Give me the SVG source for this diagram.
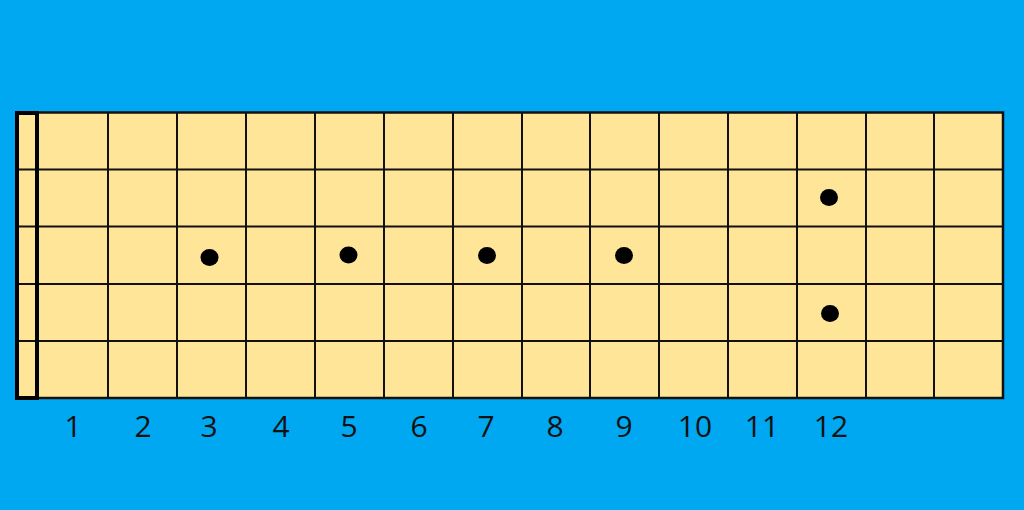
<svg xmlns="http://www.w3.org/2000/svg" width="1024" height="510" viewBox="0 0 1024 510">
<style>
.bg{fill:#00A7F1}
.board{fill:#FFE598;stroke:#111;stroke-width:2.5}
.line{stroke:#111;stroke-width:2}
.nut{fill:none;stroke:#000;stroke-width:4}
.dot{fill:#000}
.num{font-family:"Open Sans","Noto Sans",sans-serif;font-size:30px;fill:#111;text-anchor:middle}
</style>
<rect class="bg" x="0" y="0" width="1024" height="510"/>
<g id="fretboard">
<rect class="board" x="17" y="112.5" width="986" height="285.5"/>
<g id="frets">
<line class="line" x1="108" y1="112" x2="108" y2="398"/>
<line class="line" x1="177" y1="112" x2="177" y2="398"/>
<line class="line" x1="246" y1="112" x2="246" y2="398"/>
<line class="line" x1="315" y1="112" x2="315" y2="398"/>
<line class="line" x1="384" y1="112" x2="384" y2="398"/>
<line class="line" x1="453" y1="112" x2="453" y2="398"/>
<line class="line" x1="522" y1="112" x2="522" y2="398"/>
<line class="line" x1="590" y1="112" x2="590" y2="398"/>
<line class="line" x1="659" y1="112" x2="659" y2="398"/>
<line class="line" x1="728" y1="112" x2="728" y2="398"/>
<line class="line" x1="797" y1="112" x2="797" y2="398"/>
<line class="line" x1="866" y1="112" x2="866" y2="398"/>
<line class="line" x1="934" y1="112" x2="934" y2="398"/>
</g>
<g id="strings">
<line class="line" x1="17" y1="169.5" x2="1003" y2="169.5"/>
<line class="line" x1="17" y1="226.5" x2="1003" y2="226.5"/>
<line class="line" x1="17" y1="284" x2="1003" y2="284"/>
<line class="line" x1="17" y1="341" x2="1003" y2="341"/>
</g>
</g>
<g id="nut">
<rect class="nut" x="17" y="113" width="20" height="285"/>
</g>
<g id="markers">
<ellipse class="dot" cx="209.5" cy="257.5" rx="9" ry="8.5"/>
<ellipse class="dot" cx="348.5" cy="255" rx="9" ry="8.5"/>
<ellipse class="dot" cx="487" cy="255.5" rx="9" ry="8.5"/>
<ellipse class="dot" cx="624" cy="255.5" rx="9" ry="8.5"/>
<ellipse class="dot" cx="829" cy="197.5" rx="9" ry="8.5"/>
<ellipse class="dot" cx="830" cy="313.5" rx="9" ry="8.5"/>
</g>
<g id="labels">
<text class="num" x="73" y="437">1</text>
<text class="num" x="143" y="437">2</text>
<text class="num" x="209" y="437">3</text>
<text class="num" x="281" y="437">4</text>
<text class="num" x="349" y="437">5</text>
<text class="num" x="419" y="437">6</text>
<text class="num" x="486" y="437">7</text>
<text class="num" x="555" y="437">8</text>
<text class="num" x="624" y="437">9</text>
<text class="num" x="695" y="437">10</text>
<text class="num" x="762" y="437">11</text>
<text class="num" x="831" y="437">12</text>
</g>
</svg>
